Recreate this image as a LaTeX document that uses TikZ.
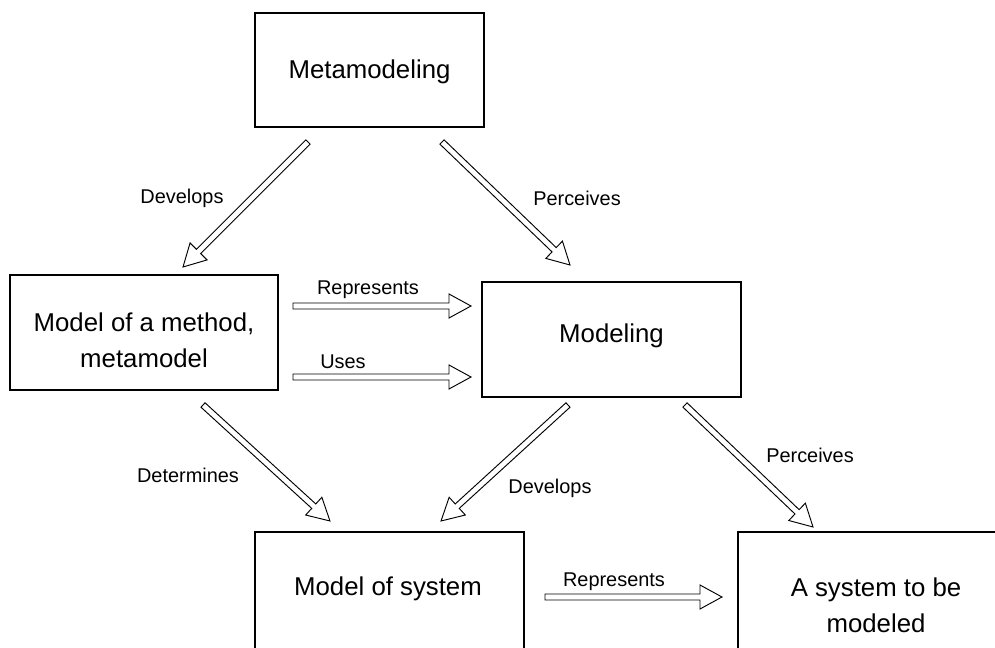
\documentclass[tikz,border=0pt]{standalone}
\usepackage{fontspec}
\setmainfont{Liberation Sans}
\usetikzlibrary{calc}

% hollow double-lined arrow from #1 to #2
\newcommand\hollowarrow[2]{%
  \draw[harrow]
    ($(#1)!0.09cm!90:(#2)$) --
    ($($(#2)!0.66cm!(#1)$)!0.09cm!-90:(#1)$) --
    ($($(#2)!0.66cm!(#1)$)!0.36cm!-90:(#1)$) --
    (#2) --
    ($($(#2)!0.66cm!(#1)$)!0.36cm!90:(#1)$) --
    ($($(#2)!0.66cm!(#1)$)!0.09cm!90:(#1)$) --
    ($(#1)!0.09cm!-90:(#2)$) -- cycle;}

\begin{document}
\begin{tikzpicture}[x=0.03cm,y=-0.03cm,
  boxframe/.style={draw, line width=1pt},
  boxtext/.style={font=\fontsize{22}{31}\selectfont, align=center, inner sep=0pt},
  lbl/.style={font=\fontsize{17}{20}\selectfont, inner sep=0pt},
  harrow/.style={draw=black, fill=white, line width=0.8pt, line join=miter}]

\useasboundingbox (0,0) rectangle (995,648);
\begin{scope}
\clip (0,0) rectangle (995,648);

% boxes
\draw[boxframe] (255,13) rectangle (484,127);
\node[boxtext] (meta) at (369.5,72) {Metamodeling};

\draw[boxframe] (10,275) rectangle (278,390);
\node[boxtext] (method) at (144,340) {Model of a method,\\metamodel};

\draw[boxframe] (482,282) rectangle (741,397);
\node[boxtext] (modeling) at (611.5,336) {Modeling};

\draw[boxframe] (255,532) rectangle (524,700);
\node[boxtext] (sysmodel) at (388,589) {Model of system};

\draw[boxframe] (738,532) rectangle (1100,700);
\node[boxtext] (target) at (876,605) {A system to be\\modeled};
\end{scope}

% arrow end points
\coordinate (d1s) at (308,142); \coordinate (d1e) at (183,267);
\coordinate (p1s) at (442,142); \coordinate (p1e) at (570,265);
\coordinate (r1s) at (293,306); \coordinate (r1e) at (471,306);
\coordinate (us)  at (293,377); \coordinate (ue)  at (471,377);
\coordinate (dts) at (203,405); \coordinate (dte) at (330,521);
\coordinate (d2s) at (568,405); \coordinate (d2e) at (441,521);
\coordinate (p2s) at (685,405); \coordinate (p2e) at (813,527);
\coordinate (r2s) at (545,597); \coordinate (r2e) at (722,597);

\hollowarrow{d1s}{d1e}
\hollowarrow{p1s}{p1e}
\hollowarrow{r1s}{r1e}
\hollowarrow{us}{ue}
\hollowarrow{dts}{dte}
\hollowarrow{d2s}{d2e}
\hollowarrow{p2s}{p2e}
\hollowarrow{r2s}{r2e}

% labels
\node[lbl] (l1) at (182,198) {Develops};
\node[lbl] (l2) at (577,198) {Perceives};
\node[lbl] (l3) at (368,290) {Represents};
\node[lbl] (l4) at (343,362) {Uses};
\node[lbl] (l5) at (188,475) {Determines};
\node[lbl] (l6) at (550,488) {Develops};
\node[lbl] (l7) at (810,455) {Perceives};
\node[lbl] (l8) at (614,582) {Represents};
\end{tikzpicture}
\end{document}
